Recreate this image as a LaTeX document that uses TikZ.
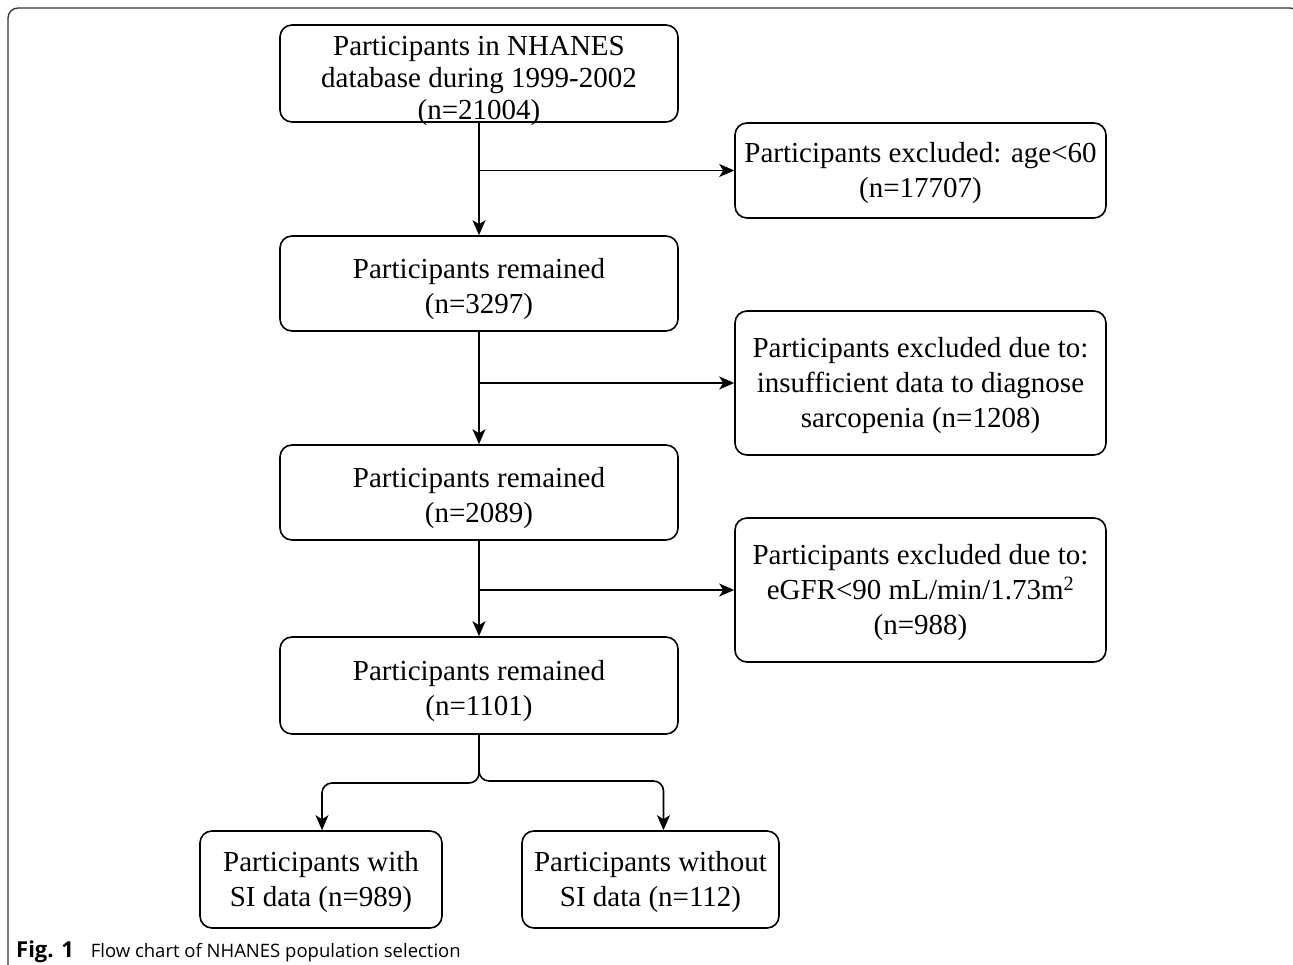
\documentclass[tikz,border=0pt]{standalone}
\usepackage{fontspec}
\setmainfont{Liberation Serif}
\newfontfamily\capfont{Open Sans}
\usetikzlibrary{arrows.meta}
\newcommand\liftA{\rule{0pt}{32pt}}
\newcommand\liftB{\rule{0pt}{25pt}}
\begin{document}
\begin{tikzpicture}[x=1pt,y=-1pt,
  box/.style={draw=black, line width=1.6pt, rounded corners=12pt, align=center, inner sep=0pt,
    font=\fontsize{29}{35}\selectfont},
  arr/.style={draw=black, line width=1.6pt, -{Stealth[length=15pt,width=13pt,inset=4pt]}},
  frameline/.style={draw=black!80, line width=1.3pt, rounded corners=10pt}]
\useasboundingbox (0,0) rectangle (1293,965);
\draw[frameline] (8,975) -- (8,8) -- (1300,8) -- (1300,975);
\node[box, font=\fontsize{29}{32}\selectfont, minimum width=398pt, minimum height=97pt, text height=94.5pt, text depth=2.5pt] (b1) at (479,73.5) {Participants in NHANES\\database during 1999-2002\\(n=21004)};
\node[box, minimum width=371pt, minimum height=95pt] (e1) at (920.5,170.5) {\liftB Participants excluded: age<60\\(n=17707)};
\node[box, minimum width=398pt, minimum height=95pt] (b2) at (479,283.5) {\liftA Participants remained\\(n=3297)};
\node[box, minimum width=371pt, minimum height=144pt] (e2) at (920.5,383) {\liftB Participants excluded due to:\\insufficient data to diagnose\\sarcopenia (n=1208)};
\node[box, minimum width=398pt, minimum height=95pt] (b3) at (479,492.5) {\liftA Participants remained\\(n=2089)};
\node[box, minimum width=371pt, minimum height=144pt] (e3) at (920.5,590) {\liftB Participants excluded due to:\\eGFR<90 mL/min/1.73m\textsuperscript{2}\\(n=988)};
\node[box, minimum width=398pt, minimum height=97pt] (b4) at (479,685.5) {\liftA Participants remained\\(n=1101)};
\node[box, minimum width=242pt, minimum height=97pt] (l) at (321,879.5) {\liftB Participants with\\SI data (n=989)};
\node[box, minimum width=257pt, minimum height=97pt] (r) at (650.5,879.5) {\liftB Participants without\\SI data (n=112)};
\draw[arr] (b1.south) -- (b2.north);
\draw[arr] (b1.south |- e1.west) -- (e1.west);
\draw[arr] (b2.south) -- (b3.north);
\draw[arr] (b2.south |- e2.west) -- (e2.west);
\draw[arr] (b3.south) -- (b4.north);
\draw[arr] (b3.south |- e3.west) -- (e3.west);
\coordinate (jl) at (479,783);
\coordinate (jr) at (479,781);
\draw[arr, rounded corners=10pt] (b4.south) -- (jl) -| ([xshift=1pt]l.north);
\draw[arr, rounded corners=10pt] (b4.south) -- (jr) -| ([xshift=13pt]r.north);
\node[anchor=base west, inner sep=0pt, font=\capfont\fontsize{18.5}{22}\selectfont] (cap) at (16,957) {{\fontsize{22}{24}\selectfont\textbf{Fig. 1}}\hspace{17pt}Flow chart of NHANES population selection};
\end{tikzpicture}
\end{document}
